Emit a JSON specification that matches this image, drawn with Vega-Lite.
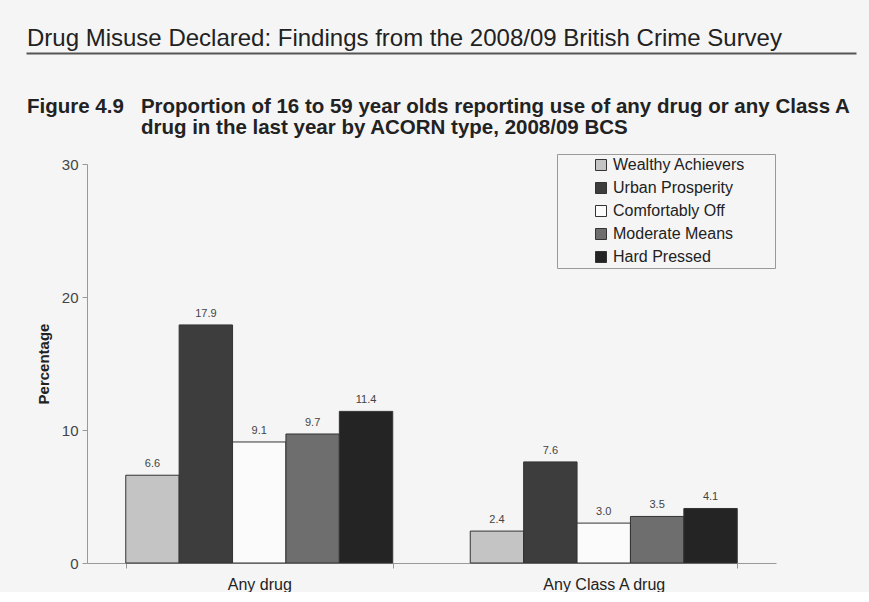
{
  "$schema": "https://vega.github.io/schema/vega-lite/v6.json",
  "background": "#f5f5f5",
  "padding": {"left": 27, "top": 27, "right": 0, "bottom": 0},
  "bounds": "flush",
  "spacing": 111,
  "resolve": {"legend": {"fill": "independent"}},
  "config": {
    "font": "Liberation Sans",
    "view": {"stroke": null}
  },
  "vconcat": [
    {
      "width": 769,
      "height": 0,
      "title": {
        "text": "Drug Misuse Declared: Findings from the 2008/09 British Crime Survey",
        "anchor": "start",
        "frame": "group",
        "dx": -60,
        "dy": 20,
        "offset": 2,
        "fontSize": 24,
        "fontWeight": "normal",
        "color": "#222222"
      },
      "data": {"values": []},
      "mark": {"type": "rule"},
      "encoding": {
        "x": {
          "field": "u",
          "type": "quantitative",
          "scale": {"domain": [0, 1], "range": [-61, 769]},
          "axis": {"labels": false, "ticks": false, "grid": false, "title": null, "domainColor": "#555555", "domainWidth": 2}
        }
      }
    },
    {
      "width": 689,
      "height": 399,
      "title": {
        "text": [
          "Figure 4.9\u00a0\u00a0 Proportion of 16 to 59 year olds reporting use of any drug or any Class A",
          "\u200b\u00a0\u00a0\u00a0\u00a0\u00a0\u00a0\u00a0\u00a0\u00a0\u00a0\u00a0\u00a0\u00a0\u00a0\u00a0\u00a0\u00a0\u00a0\u00a0\u00a0drug in the last year by ACORN type, 2008/09 BCS"
        ],
        "anchor": "start",
        "frame": "group",
        "dx": -60,
        "offset": 15,
        "fontSize": 20.5,
        "lineHeight": 21,
        "fontWeight": "bold",
        "color": "#222222"
      },
      "data": {
        "values": [
          {"measure": "Any drug", "acorn": "Wealthy Achievers", "value": 6.6},
          {"measure": "Any drug", "acorn": "Urban Prosperity", "value": 17.9},
          {"measure": "Any drug", "acorn": "Comfortably Off", "value": 9.1},
          {"measure": "Any drug", "acorn": "Moderate Means", "value": 9.7},
          {"measure": "Any drug", "acorn": "Hard Pressed", "value": 11.4},
          {"measure": "Any Class A drug", "acorn": "Wealthy Achievers", "value": 2.4},
          {"measure": "Any Class A drug", "acorn": "Urban Prosperity", "value": 7.6},
          {"measure": "Any Class A drug", "acorn": "Comfortably Off", "value": 3.0},
          {"measure": "Any Class A drug", "acorn": "Moderate Means", "value": 3.5},
          {"measure": "Any Class A drug", "acorn": "Hard Pressed", "value": 4.1}
        ]
      },
      "encoding": {
        "x": {
          "field": "measure",
          "type": "nominal",
          "sort": ["Any drug", "Any Class A drug"],
          "scale": {"paddingInner": 0.225, "paddingOuter": 0.1125},
          "axis": {
            "title": null,
            "labelAngle": 0,
            "tickBand": "extent",
            "tickSize": 5,
            "tickColor": "#999999",
            "domainColor": "#999999",
            "labelFontSize": 16,
            "labelColor": "#222222",
            "labelPadding": 8
          }
        },
        "xOffset": {
          "field": "acorn",
          "type": "nominal",
          "sort": ["Wealthy Achievers", "Urban Prosperity", "Comfortably Off", "Moderate Means", "Hard Pressed"],
          "scale": {"paddingInner": 0, "paddingOuter": 0}
        },
        "y": {
          "field": "value",
          "type": "quantitative",
          "scale": {"domain": [0, 30]},
          "axis": {
            "title": "Percentage",
            "values": [0, 10, 20, 30],
            "grid": false,
            "tickSize": 5,
            "tickColor": "#999999",
            "domainColor": "#999999",
            "labelFontSize": 15,
            "labelColor": "#444444",
            "labelPadding": 4,
            "titleFontSize": 15,
            "titleFontWeight": "bold",
            "titleColor": "#222222",
            "titlePadding": 10
          }
        }
      },
      "layer": [
        {
          "mark": {"type": "bar", "stroke": "#333333", "strokeWidth": 1},
          "encoding": {
            "fill": {
              "field": "acorn",
              "type": "nominal",
              "sort": ["Wealthy Achievers", "Urban Prosperity", "Comfortably Off", "Moderate Means", "Hard Pressed"],
              "scale": {
                "domain": ["Wealthy Achievers", "Urban Prosperity", "Comfortably Off", "Moderate Means", "Hard Pressed"],
                "range": ["#c4c4c4", "#3d3d3d", "#fbfbfb", "#6e6e6e", "#242424"]
              },
              "legend": {
                "title": null,
                "orient": "none",
                "legendX": 470,
                "legendY": -10,
                "strokeColor": "#999999",
                "padding": 3,
                "symbolOffset": 33,
                "symbolType": "square",
                "symbolSize": 121,
                "symbolStrokeColor": "#333333",
                "symbolStrokeWidth": 1,
                "labelFontSize": 16,
                "labelColor": "#222222",
                "labelOffset": 4,
                "labelLimit": 400,
                "rowPadding": 7,
                "labelExpr": "datum.label + '\u00a0\u00a0\u00a0\u00a0\u00a0\u00a0\u200b'"
              }
            }
          }
        },
        {
          "mark": {"type": "text", "dy": -11, "fontSize": 11, "color": "#444444"},
          "encoding": {
            "text": {"field": "value", "type": "quantitative", "format": ".1f"}
          }
        }
      ]
    }
  ]
}
